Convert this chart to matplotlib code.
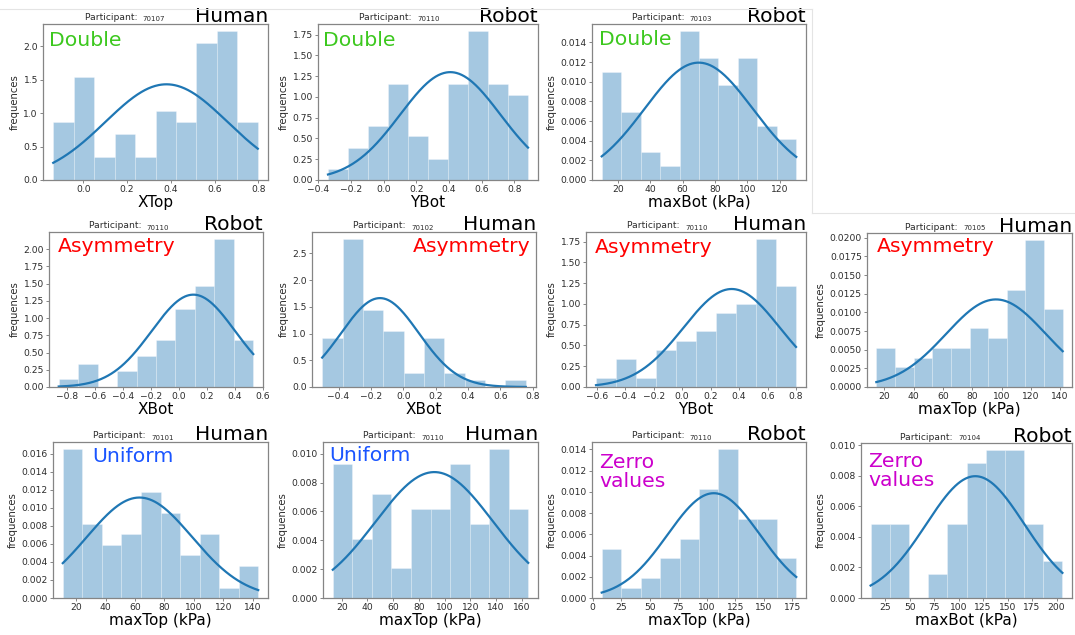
import numpy as np
import matplotlib
matplotlib.use("Agg")
import matplotlib.pyplot as plt
from matplotlib.ticker import MultipleLocator
from matplotlib.lines import Line2D

# ---------------------------------------------------------------------------
# Per-panel data, panels listed row by row (4th slot of the first row is empty)
# ---------------------------------------------------------------------------
participants = ["70107", "70110", "70103",
                "70110", "70102", "70110", "70105",
                "70101", "70110", "70110", "70104"]
variables = ["XTop", "YBot", "maxBot (kPa)",
             "XBot", "XBot", "YBot", "maxTop (kPa)",
             "maxTop (kPa)", "maxTop (kPa)", "maxTop (kPa)", "maxBot (kPa)"]
sources = ["Human", "Robot", "Robot",
           "Robot", "Human", "Human", "Human",
           "Human", "Human", "Robot", "Robot"]
shapes = ["Double", "Double", "Double",
          "Asymmetry", "Asymmetry", "Asymmetry", "Asymmetry",
          "Uniform", "Uniform", "Zerro\nvalues", "Zerro\nvalues"]

# first and last bin edge of each 10-bin histogram
hist_lo = [-0.137, -0.341, 10.1, -0.857, -0.501, -0.605, 14.6, 10.9, 13.0, 7.9, 10.0]
hist_hi = [0.797, 0.884, 130.1, 0.533, 0.757, 0.800, 141.7, 143.7, 165.0, 178.6, 206.0]

# density of each bin
density_xtop_70107 = [0.86, 1.54, 0.35, 0.685, 0.35, 1.025, 0.86, 2.05, 2.22, 0.86]
density_ybot_70110 = [0.129, 0.384, 0.646, 1.155, 0.525, 0.258, 1.155, 1.79, 1.155, 1.026]
density_maxbot_70103 = [0.01102, 0.00689, 0.0028, 0.00143, 0.01512, 0.01239, 0.00966,
                        0.01239, 0.00553, 0.00416]
density_xbot_70110 = [0.113, 0.338, 0.0, 0.225, 0.45, 0.676, 1.127, 1.465, 2.14, 0.676]
density_xbot_70102 = [0.92, 2.76, 1.44, 1.05, 0.265, 0.92, 0.265, 0.133, 0.0, 0.133]
density_ybot_70110_h = [0.108, 0.336, 0.112, 0.449, 0.56, 0.669, 0.893, 1.001, 1.778, 1.221]
density_maxtop_70105 = [0.00527, 0.00265, 0.00394, 0.00527, 0.00527, 0.00788, 0.00655,
                        0.01305, 0.01965, 0.01044]
density_maxtop_70101 = [0.01648, 0.00822, 0.00592, 0.00707, 0.01176, 0.00941, 0.00473,
                        0.00707, 0.00115, 0.00353]
density_maxtop_70110 = [0.00926, 0.00412, 0.00721, 0.00205, 0.00616, 0.00616, 0.00926,
                        0.00514, 0.0103, 0.00616]
density_maxtop_70110_r = [0.0046, 0.00095, 0.00187, 0.00375, 0.00559, 0.01025, 0.014,
                          0.00746, 0.00746, 0.00375]
density_maxbot_70104 = [0.00483, 0.00483, 0.0, 0.00159, 0.00483, 0.00884, 0.00965,
                        0.00965, 0.00483, 0.0024]

densities = [density_xtop_70107, density_ybot_70110, density_maxbot_70103,
             density_xbot_70110, density_xbot_70102, density_ybot_70110_h,
             density_maxtop_70105, density_maxtop_70101, density_maxtop_70110,
             density_maxtop_70110_r, density_maxbot_70104]

# fitted normal distribution of each sample
fit_mean = [0.38, 0.408, 69.9, 0.105, -0.144, 0.348, 96.2, 63.0, 92.0, 106.2, 117.0]
fit_std = [0.279, 0.307, 33.4, 0.298, 0.240, 0.338, 34.0, 35.8, 45.7, 40.4, 50.1]

# axis ticks
x_ticks = [
    [0.0, 0.2, 0.4, 0.6, 0.8],
    [-0.4, -0.2, 0.0, 0.2, 0.4, 0.6, 0.8],
    [20, 40, 60, 80, 100, 120],
    [-0.8, -0.6, -0.4, -0.2, 0.0, 0.2, 0.4, 0.6],
    [-0.4, -0.2, 0.0, 0.2, 0.4, 0.6, 0.8],
    [-0.6, -0.4, -0.2, 0.0, 0.2, 0.4, 0.6, 0.8],
    [20, 40, 60, 80, 100, 120, 140],
    [20, 40, 60, 80, 100, 120, 140],
    [20, 40, 60, 80, 100, 120, 140, 160],
    [0, 25, 50, 75, 100, 125, 150, 175],
    [25, 50, 75, 100, 125, 150, 175, 200],
]
y_tick_step = [0.5, 0.25, 0.002, 0.25, 0.5, 0.25, 0.0025, 0.002, 0.002, 0.002, 0.002]

# ---------------------------------------------------------------------------
# Layout (pixel boxes of each axes: left, right, top, bottom)
# ---------------------------------------------------------------------------
W, H = 1075, 635
boxes = [
    (43, 268, 24, 180), (318, 538, 24, 180), (592, 806, 24, 180),
    (49, 263, 232, 387), (312, 536, 232, 387), (586, 806, 232, 387), (867, 1072, 233, 387),
    (53, 268, 442, 598), (323, 538, 442, 598), (592, 806, 442, 598), (861, 1072, 443, 598),
]
# shape tag placement: (px from left or right edge, px from top to last baseline, alignment)
shape_pos = [(6, 22, "left"), (5, 22, "left"), (7, 21, "left"),
             (9, 20, "left"), (6, 20, "right"), (9, 21, "left"), (10, 19, "left"),
             (39, 20, "left"), (6, 19, "left"), (7, 45, "left"), (7, 43, "left")]
shape_colors = {"Double": "#3cc81e", "Asymmetry": "#ff0000",
                "Uniform": "#1a55ff", "Zerro\nvalues": "#cc00cc"}

BAR = "#1f77b4"
SPINE = "#858585"
TXT = "#2b2b2b"

fig = plt.figure(figsize=(W / 100, H / 100), dpi=100)
fig.patch.set_facecolor("white")

for i in range(len(densities)):
    l, r, t, b = boxes[i]
    ax = fig.add_axes([l / W, 1 - b / H, (r - l) / W, (b - t) / H])
    ax_h = b - t
    ax_w = r - l

    heights = np.asarray(densities[i])
    edges = np.linspace(hist_lo[i], hist_hi[i], len(heights) + 1)
    ax.bar(edges[:-1], heights, width=np.diff(edges), align="edge",
           color=BAR, alpha=0.4, edgecolor="white", linewidth=0.5)

    xs = np.linspace(hist_lo[i], hist_hi[i], 300)
    mu, sd = fit_mean[i], fit_std[i]
    pdf = np.exp(-0.5 * ((xs - mu) / sd) ** 2) / (sd * np.sqrt(2 * np.pi))
    ax.plot(xs, pdf, color=BAR, linewidth=1.6)

    ax.set_xticks(x_ticks[i])
    ax.yaxis.set_major_locator(MultipleLocator(y_tick_step[i]))

    for sp in ax.spines.values():
        sp.set_color(SPINE)
        sp.set_linewidth(0.9)
    ax.tick_params(axis="both", labelsize=6.6, labelcolor=TXT, color=SPINE,
                   length=2.5, width=0.7, pad=1.2)

    ax.set_xlabel(variables[i], fontsize=11, color="black", labelpad=0.5)
    ax.set_ylabel("frequences", fontsize=7.3, color=TXT, labelpad=2.5)

    # participant caption, number set in a smaller size
    cap = ax.text(0.185, 1 + 3.5 / ax_h, "Participant:  ", transform=ax.transAxes,
                  fontsize=6.6, color=TXT, ha="left", va="baseline")
    ax.annotate(participants[i], xy=(1, 0), xycoords=cap, fontsize=5.0, color=TXT,
                ha="left", va="bottom")

    # source tag above the right corner
    ax.text(1.0, 1 + 1.5 / ax_h, sources[i], transform=ax.transAxes,
            fontsize=14.6, color="black", ha="right", va="baseline")

    # distribution shape tag
    dx, dy, align = shape_pos[i]
    sx = dx / ax_w if align == "left" else 1 - dx / ax_w
    ax.text(sx, 1 - dy / ax_h, shapes[i], transform=ax.transAxes,
            fontsize=14.7, color=shape_colors[shapes[i]], ha=align, va="baseline",
            linespacing=1.0)

# thin frame lines between the pasted panels
frame = "#e4e4e4"
fig.add_artist(Line2D([0, 812 / W], [1 - 9 / H, 1 - 9 / H], color=frame, lw=0.8))
fig.add_artist(Line2D([812 / W, 812 / W], [1 - 9 / H, 1 - 213 / H], color=frame, lw=0.8))
fig.add_artist(Line2D([812 / W, 1], [1 - 213 / H, 1 - 213 / H], color=frame, lw=0.8))

fig.savefig("out.png", dpi=100, facecolor="white")
